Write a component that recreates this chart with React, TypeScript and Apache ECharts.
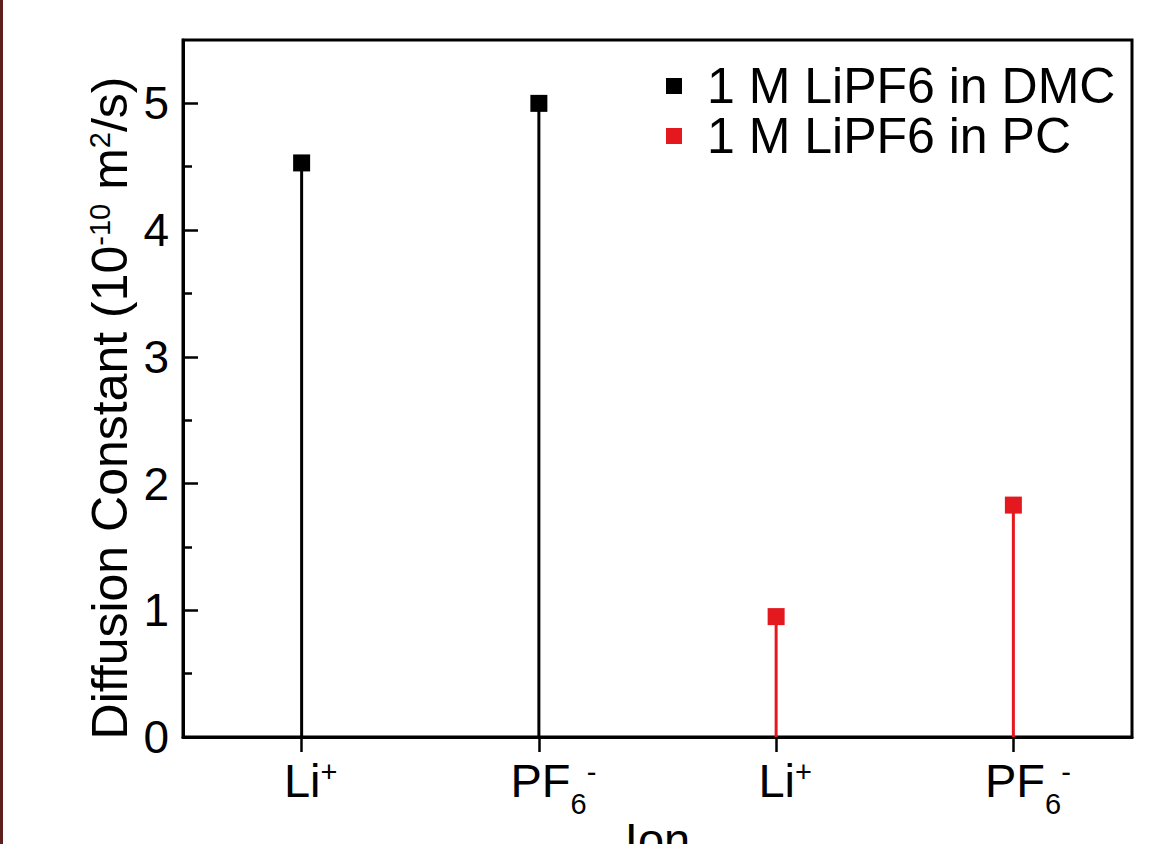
import React, { useEffect, useRef } from "react";
import * as echarts from "echarts";

const categories = ["Li+", "PF6-", "Li+", "PF6-"];
const seriesNames = ["1 M LiPF6 in DMC", "1 M LiPF6 in PC"];
const dmcValues: (number | string)[] = [4.53, 5.0, "-", "-"];
const pcValues: (number | string)[] = ["-", "-", 0.95, 1.83];
const majorTicks = [0, 1, 2, 3, 4, 5];
const minorTicks = [0.5, 1.5, 2.5, 3.5, 4.5];
const colors = ["#000000", "#e3191f"];

const FONT = "Liberation Sans, Arial, Helvetica, sans-serif";

export default function App() {
  const ref = useRef<HTMLDivElement>(null);
  useEffect(() => {
    if (!ref.current) return;
    const chart = echarts.init(ref.current, null, { renderer: "svg" });
    const labelRich = {
      m: { fontSize: 47, fontFamily: FONT, color: "#000", lineHeight: 47 },
      sup: { fontSize: 29, fontFamily: FONT, color: "#000", lineHeight: 47, padding: [0, 0, 17, 0] },
      sub: { fontSize: 29, fontFamily: FONT, color: "#000", lineHeight: 47, padding: [47, 0, 0, 0] },
      sp1: { width: 18, lineHeight: 47, fontSize: 10 },
      sp2: { width: 29, lineHeight: 47, fontSize: 10 },
    };
    const option: any = {
      animation: false,
      backgroundColor: "#ffffff",
      textStyle: { fontFamily: FONT },
      grid: {
        left: 183,
        right: 34,
        top: 40,
        bottom: 107,
        show: true,
        borderColor: "#000",
        borderWidth: 3,
        backgroundColor: "transparent",
        containLabel: false,
        outerBoundsMode: "none",
      },
      legend: {
        orient: "vertical",
        left: 666,
        top: 61,
        padding: 0,
        itemGap: 0,
        icon: "rect",
        itemWidth: 16,
        itemHeight: 16,
        data: seriesNames,
        textStyle: {
          fontSize: 50,
          fontFamily: FONT,
          color: "#000",
          lineHeight: 48,
          padding: [0, 0, 0, 20],
        },
      },
      xAxis: {
        type: "category",
        data: categories,
        boundaryGap: true,
        axisLine: { show: true, lineStyle: { color: "#000", width: 3 } },
        axisTick: { show: true, alignWithLabel: true, inside: false, length: 15, lineStyle: { color: "#000", width: 2.5 } },
        axisLabel: {
          margin: 20,
          formatter: (v: string) =>
            v === "Li+" ? "{sp1| }{m|Li}{sup|+}" : "{sp2| }{m|PF}{sub|6}{sup|-}",
          rich: labelRich,
        },
        splitLine: { show: false },
        name: "Ion",
        nameLocation: "middle",
        nameGap: 79,
        nameMoveOverlap: false,
        nameTextStyle: { fontSize: 47, fontFamily: FONT, color: "#000" },
      },
      yAxis: [
        {
          type: "value",
          min: 0,
          max: 5.5,
          interval: 1,
          axisLine: { show: true, lineStyle: { color: "#000", width: 3 } },
          axisTick: { show: true, inside: true, length: 15, customValues: majorTicks, lineStyle: { color: "#000", width: 2.5 } },
          axisLabel: { margin: 14, customValues: majorTicks, fontSize: 46, fontFamily: FONT, color: "#000" },
          splitLine: { show: false },
        },
        {
          type: "value",
          min: 0,
          max: 5.5,
          position: "left",
          axisLine: { show: false },
          axisTick: { show: true, inside: true, length: 9, customValues: minorTicks, lineStyle: { color: "#000", width: 2.5 } },
          axisLabel: { show: false },
          splitLine: { show: false },
        },
      ],
      graphic: [
        {
          type: "rect",
          shape: { x: 0, y: 0, width: 3, height: 844 },
          style: { fill: "#5e1f1f" },
          silent: true,
        },
        {
          type: "text",
          x: 110,
          y: 408,
          rotation: Math.PI / 2,
          style: {
            text: "{a|Diffusion Constant (10}{s|-10}{a| m}{s|2}{a|/s)}",
            align: "center",
            verticalAlign: "middle",
            rich: {
              a: { fontSize: 50, fontFamily: FONT, fill: "#000", lineHeight: 50 },
              s: { fontSize: 29, fontFamily: FONT, fill: "#000", lineHeight: 50, padding: [0, 0, 20, 0] },
            },
          },
        },
      ],
      series: [
        {
          name: seriesNames[0],
          type: "bar",
          data: dmcValues,
          barWidth: 3,
          barGap: "-100%",
          itemStyle: { color: colors[0] },
        },
        {
          name: seriesNames[1],
          type: "bar",
          data: pcValues,
          barWidth: 3,
          barGap: "-100%",
          itemStyle: { color: colors[1] },
        },
        {
          name: seriesNames[0],
          type: "scatter",
          data: dmcValues,
          symbol: "rect",
          symbolSize: 17,
          itemStyle: { color: colors[0], opacity: 1 },
          z: 5,
        },
        {
          name: seriesNames[1],
          type: "scatter",
          data: pcValues,
          symbol: "rect",
          symbolSize: 17,
          itemStyle: { color: colors[1], opacity: 1 },
          z: 5,
        },
      ],
    };
    chart.setOption(option);
    return () => chart.dispose();
  }, []);
  return (
    <div
      ref={ref}
      style={{ position: "fixed", left: 0, top: 0, width: 1166, height: 844, background: "#fff" }}
    />
  );
}
